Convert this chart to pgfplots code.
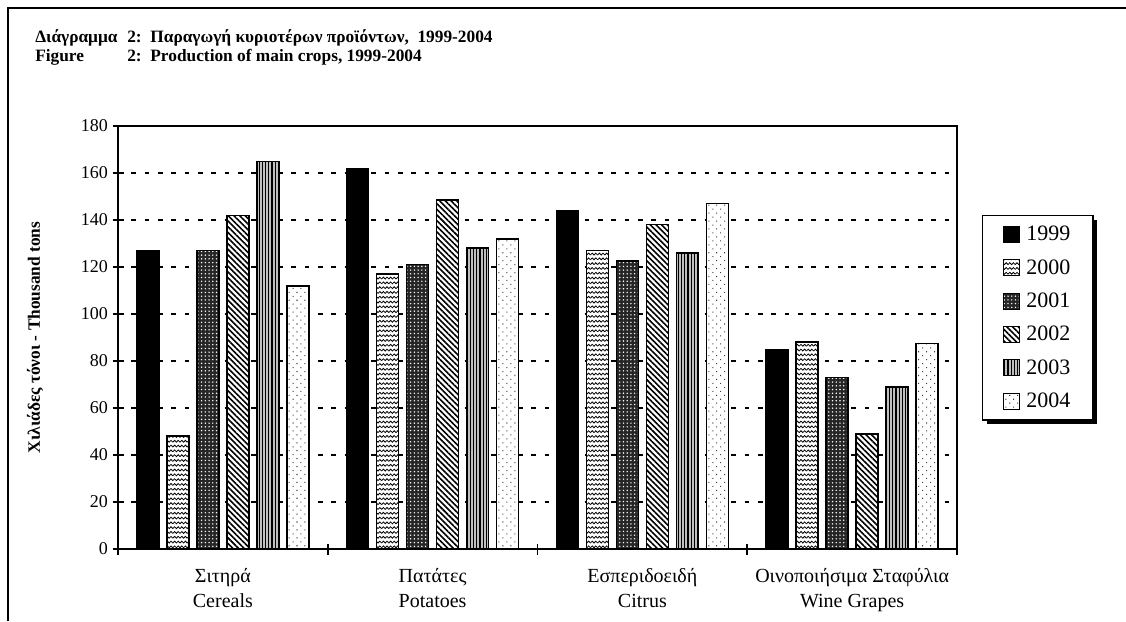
\documentclass[border=0pt]{standalone}
\usepackage{fontspec}
\setmainfont{Liberation Serif}
\usepackage{pgfplots}
\pgfplotsset{compat=1.18}
\usetikzlibrary{patterns,patterns.meta,shadows}

% wavy rows for 2000
\tikzdeclarepattern{
  name=zigzag,
  type=uncolored,
  bottom left={(-0.5pt,-0.5pt)},
  top right={(5.9pt,4.1pt)},
  tile size={(5.4pt,3.6pt)},
  code={
    \draw[line width=0.6pt] (0pt,0.9pt) -- (1.35pt,2.3pt) -- (2.7pt,0.9pt) -- (4.05pt,2.3pt) -- (5.4pt,0.9pt);
  }
}

% the legend box shadow must not reach the swatches
\makeatletter
\tikzset{no preactions/.code={\let\tikz@preactions=\pgfutil@empty}}
\makeatother

\pgfplotsset{
  s99/.style={draw=black, line width=1.1pt, fill=black},
  s00/.style={draw=black, line width=1.1pt, fill=white, postaction={pattern=zigzag, pattern color=black}},
  s01/.style={draw=black, line width=1.1pt, fill=black!85, postaction={pattern={Dots[distance=2.8pt, radius=0.6pt]}, pattern color=white}},
  s02/.style={draw=black, line width=1.1pt, fill=white, postaction={pattern={Lines[angle=-45, distance=3pt, line width=1.2pt]}, pattern color=black}},
  s03/.style={draw=black, line width=1.1pt, fill=black!25, postaction={pattern={Lines[angle=90, distance=2.4pt, line width=0.9pt]}, pattern color=black}},
  s04/.style={draw=black, line width=1.1pt, fill=white, postaction={pattern={Dots[distance=4.2pt, radius=0.55pt, angle=45]}, pattern color=black!75}},
}

\begin{document}
\begin{tikzpicture}
\useasboundingbox (0pt,0pt) rectangle (844.5pt,465.75pt);
\draw[line width=1.5pt] (6pt,0pt) -- (6pt,459.75pt) -- (844.5pt,459.75pt);

\node[anchor=base west, inner sep=0pt, font=\fontsize{13}{15}\selectfont\bfseries] at (26.25pt,433.5pt) {Διάγραμμα};
\node[anchor=base west, inner sep=0pt, font=\fontsize{13}{15}\selectfont\bfseries] at (95.25pt,433.5pt) {2:\ \ Παραγωγή κυριοτέρων προϊόντων,\ \ 1999-2004};
\node[anchor=base west, inner sep=0pt, font=\fontsize{13}{15}\selectfont\bfseries] at (26.25pt,419.25pt) {Figure};
\node[anchor=base west, inner sep=0pt, font=\fontsize{13}{15}\selectfont\bfseries] at (95.25pt,419.25pt) {2:\ \ Production of main crops, 1999-2004};

\begin{axis}[
  at={(88.5pt,54pt)}, anchor=south west,
  scale only axis,
  width=629.25pt, height=317.25pt,
  ybar=6pt, bar width=16.5pt,
  xmin=-0.5, xmax=3.5,
  ymin=0, ymax=180,
  ytick distance=20,
  xtick={-0.5,0.5,1.5,2.5,3.5},
  x tick label as interval,
  xticklabels={{Σιτηρά\\Cereals},{Πατάτες\\Potatoes},{Εσπεριδοειδή\\Citrus},{Οινοποιήσιμα Σταφύλια\\Wine Grapes}},
  x tick label style={align=center, font=\fontsize{15}{19}\selectfont, yshift=-7pt},
  y tick label style={font=\fontsize{13.5}{15}\selectfont},
  /pgf/number format/assume math mode=true,
  tick pos=left,
  tick align=center,
  major tick length=8.25pt,
  tick style={line width=1.4pt, black},
  axis line style={line width=1.4pt},
  ymajorgrids,
  major grid style={line width=1.8pt, black, dash pattern=on 3.5pt off 6.5pt},
  ylabel={Χιλιάδες τόνοι - Thousand tons},
  ylabel style={font=\fontsize{13}{15}\selectfont\bfseries, at={(axis description cs:-0.0989,0.5)}, anchor=center},
  legend style={at={(1.0298,0.7896)}, anchor=north west, draw=black, line width=1pt,
    font=\fontsize{16.5}{18}\selectfont, row sep=9.5pt, column sep=3pt,
    inner xsep=15.5pt, inner ysep=6.5pt,
    nodes={inner sep=1.5pt},
    drop shadow={shadow xshift=3pt, shadow yshift=-3pt, fill=black, opacity=1},
    fill=white, cells={anchor=west}},
  legend image code/.code={\draw[no preactions, #1, line width=0.8pt] (0pt,-6pt) rectangle (12pt,6pt);},
]
\addplot[s99] coordinates {(0,127) (1,162) (2,144) (3,84.7)};
\addplot[s00] coordinates {(0,48) (1,117) (2,127) (3,88)};
\addplot[s01] coordinates {(0,127) (1,121) (2,122.5) (3,73)};
\addplot[s02] coordinates {(0,142) (1,148.5) (2,138) (3,49)};
\addplot[s03] coordinates {(0,165) (1,128) (2,126) (3,69)};
\addplot[s04] coordinates {(0,112) (1,132) (2,147) (3,87.5)};
\legend{1999,2000,2001,2002,2003,2004}
\end{axis}
\end{tikzpicture}
\end{document}
